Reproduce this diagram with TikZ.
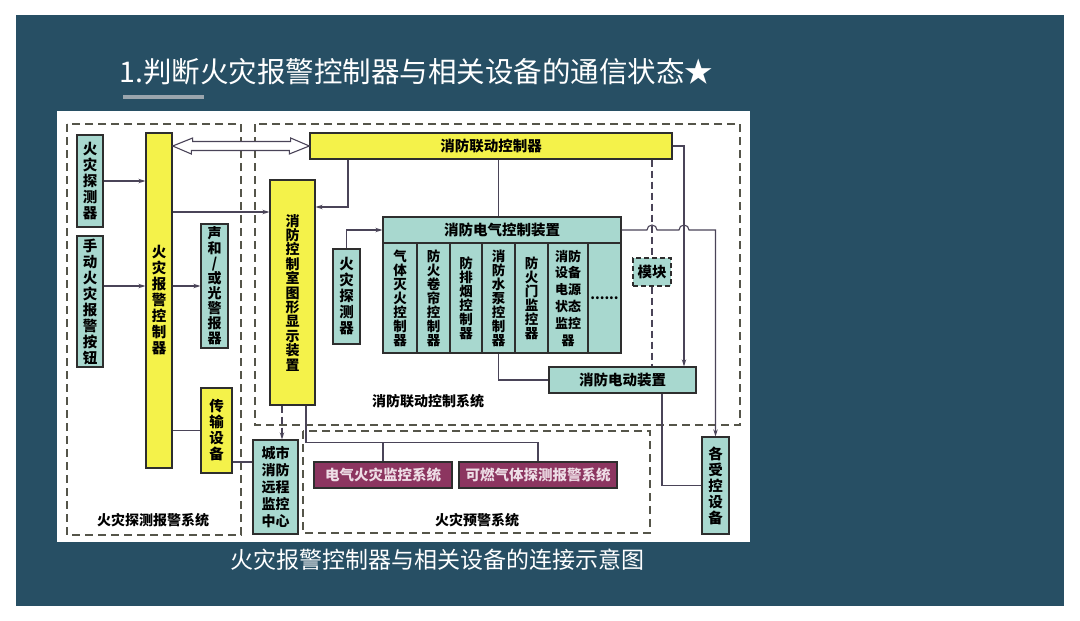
\documentclass[tikz,border=0pt]{standalone}
\usepackage{fontspec}
\setmainfont{Noto Sans CJK SC}
\usepackage{tikz}
\usetikzlibrary{arrows.meta,positioning,shapes,fit}

\definecolor{slide}{HTML}{274F64}
\definecolor{tealfill}{HTML}{A8D8CF}
\definecolor{yellowfill}{HTML}{F4F24A}
\definecolor{plumfill}{HTML}{8C3560}
\definecolor{plumtext}{HTML}{EEDDE6}
\definecolor{wirec}{HTML}{4A4458}
\definecolor{edgec}{HTML}{2E2E2E}
\definecolor{groupline}{HTML}{55554A}
\definecolor{barc}{HTML}{9AA5AD}

\begin{document}
\begin{tikzpicture}[
            x=1pt, y=-1pt,
            box/.style={draw=edgec, line width=1.3pt, align=center, inner sep=0pt, font=\bfseries\fontsize{14.5}{16}\selectfont},
            tealbox/.style={box, fill=tealfill},
            yellowbox/.style={box, fill=yellowfill},
            plumbox/.style={box, fill=plumfill, text=plumtext},
            colbox/.style={tealbox, minimum height=110, font=\bfseries\fontsize{13.5}{14}\selectfont},
            group/.style={draw=groupline, dash pattern=on 8pt off 5pt, line width=1.2pt},
            grouplabel/.style={font=\bfseries\fontsize{14}{16}\selectfont},
            wire/.style={draw=wirec, line width=1.1pt},
            dashwire/.style={wire, dash pattern=on 7pt off 4pt},
            arr/.style={-{Stealth[length=7pt,width=4.5pt]}},
            hollow/.style={draw=wirec, fill=white, line width=1.1pt, line join=miter}
        ]
            \useasboundingbox (0,0) rectangle (1080,621);
            \fill[white] (0,0) rectangle (1080,621);
            \fill[slide] (16,15) rectangle (1064,606);
            \fill[white] (57,111) rectangle (750,542);

            \node[anchor=west, text=white, font=\fontsize{28.5}{32}\selectfont] (title) at (116,72) {1.判断火灾报警控制器与相关设备的通信状态★};
            \fill[barc] (123,95) rectangle (204,99);
            \node[text=white, font=\fontsize{23}{26}\selectfont] (caption) at (437,560) {火灾报警控制器与相关设备的连接示意图};

            \draw[group] (67,124) rectangle (241,535);
            \draw[group] (255,124) rectangle (740,425);
            \draw[group] (303,431) rectangle (650,533);
            \node[grouplabel] (sys1) at (153,520) {火灾探测报警系统};
            \node[grouplabel] (sys2) at (428,401) {消防联动控制系统};
            \node[grouplabel] (sys3) at (477,520) {火灾预警系统};

            \node[tealbox, minimum width=26, minimum height=92] (det1) at (90,181) {火\\灾\\探\\测\\器};
            \node[tealbox, minimum width=26, minimum height=131] (manual) at (90,301.5) {手\\动\\火\\灾\\报\\警\\按\\钮};
            \node[yellowbox, minimum width=26, minimum height=335] (fac) at (159,300.5) {火\\灾\\报\\警\\控\\制\\器};
            \node[tealbox, minimum width=27, minimum height=124, font=\bfseries\fontsize{14}{15}\selectfont] (sound) at (214.5,286) {声\\和\\/\\或\\光\\警\\报\\器};
            \node[yellowbox, minimum width=31, minimum height=85] (trans) at (216.5,430.5) {传\\输\\设\\备};
            \node[tealbox, minimum width=45, minimum height=94, font=\bfseries\fontsize{14}{16.8}\selectfont] (remote) at (275.5,487) {城市\\消防\\远程\\监控\\中心};
            \node[yellowbox, minimum width=45, minimum height=225, font=\bfseries\fontsize{14}{14.4}\selectfont] (gdisp) at (292.5,292.5) {消\\防\\控\\制\\室\\图\\形\\显\\示\\装\\置};

            \node[yellowbox, minimum width=362, minimum height=26] (linkc) at (491,146) {消防联动控制器};
            \node[tealbox, minimum width=238, minimum height=26] (elec) at (502,230) {消防电气控制装置};
            \node[colbox, minimum width=34] (col1) at (400,298) {气\\体\\灭\\火\\控\\制\\器};
            \node[colbox, minimum width=33] (col2) at (433.5,298) {防\\火\\卷\\帘\\控\\制\\器};
            \node[colbox, minimum width=32] (col3) at (466,298) {防\\排\\烟\\控\\制\\器};
            \node[colbox, minimum width=33] (col4) at (498.5,298) {消\\防\\水\\泵\\控\\制\\器};
            \node[colbox, minimum width=33] (col5) at (531.5,298) {防\\火\\门\\监\\控\\器};
            \node[colbox, minimum width=40, font=\bfseries\fontsize{13}{16.8}\selectfont] (col6) at (568,298) {消防\\设备\\电源\\状态\\监控\\器};
            \node[colbox, minimum width=33] (col7) at (604.5,298) {......};
            \node[tealbox, minimum width=27, minimum height=95] (det2) at (346.5,296.5) {火\\灾\\探\\测\\器};
            \node[tealbox, dash pattern=on 5pt off 3pt, minimum width=38, minimum height=28] (module) at (652,272) {模块};
            \node[tealbox, minimum width=147, minimum height=26] (motor) at (622.5,380) {消防电动装置};
            \node[tealbox, minimum width=27, minimum height=97] (ctrl) at (715.5,485.5) {各\\受\\控\\设\\备};
            \node[plumbox, minimum width=138, minimum height=26] (efire) at (383,475) {电气火灾监控系统};
            \node[plumbox, minimum width=158, minimum height=26] (gas) at (538,475) {可燃气体探测报警系统};

            \draw[hollow] (fac.east |- linkc) -- ++(20,-8) -- ++(0,3.5) -- ++(98,0) -- ++(0,-3.5) -- (linkc.west) -- ++(-20,8) -- ++(0,-3.5) -- ++(-98,0) -- ++(0,3.5) -- cycle;

            \draw[wire, arr] (det1) -- (det1 -| fac.west);
            \draw[wire, arr] (manual.east |- sound) -- (fac.west |- sound);
            \draw[wire, arr] (fac.east |- sound) -- (sound);
            \coordinate (feed) at ([yshift=80.5]gdisp.west);
            \draw[wire, arr] (feed -| fac.east) -- (feed);
            \draw[wire] (fac.east |- trans) -- (trans);
            \coordinate (tr) at ([yshift=-31.5]trans.east);
            \draw[wire] (tr) -- (tr -| remote.west);
            \draw[wire, arr] ([xshift=-143]linkc.south) |- ([yshift=85.5]gdisp.east);
            \draw[wire] (linkc.south -| col4) -- (elec.north -| col4);
            \draw[wire] (col4.south) |- (motor.west);
            \draw[wire, arr] (det2.north) |- (elec.west);
            \coordinate (mr) at ([xshift=61.5]motor.north);
            \draw[wire, arr] (linkc.east) -| (mr);
            \draw[dashwire] (linkc.south -| module) -- (module.north);
            \draw[dashwire] (module.south) -- (module.south |- motor.north);
            \coordinate (j1) at (elec.east -| module);
            \coordinate (j2) at (elec.east -| mr);
            \draw[wire, arr] (elec.east) -- ([xshift=-5]j1) arc[start angle=180, end angle=0, radius=5pt] -- ([xshift=-5]j2) arc[start angle=180, end angle=0, radius=5pt] -| (ctrl.north);
            \draw[wire] ([xshift=39.5]motor.south) |- (ctrl.west);
            \coordinate (g1) at ([xshift=-10.5]gdisp.south);
            \draw[dashwire, arr] (g1) -- (g1 |- remote.north);
            \coordinate (g2) at ([xshift=13.5]gdisp.south);
            \coordinate (bus) at ([yshift=19]gas.north);
            \draw[wire] (g2) |- (bus) -- (gas.north);
            \draw[wire] (efire.north) -- (efire.north |- bus);
        \end{tikzpicture}
\end{document}
